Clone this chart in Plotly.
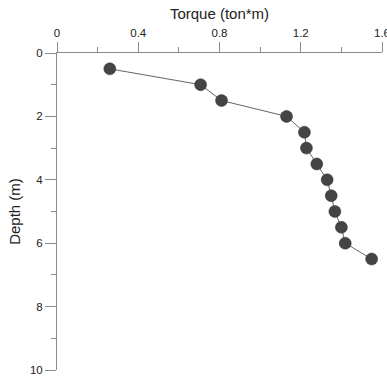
import plotly.graph_objects as go

depth = [0.5, 1.0, 1.5, 2.0, 2.5, 3.0, 3.5, 4.0, 4.5, 5.0, 5.5, 6.0, 6.5]
torque = [0.26, 0.707, 0.81, 1.13, 1.218, 1.228, 1.279, 1.33, 1.35, 1.368, 1.40, 1.419, 1.549]

x_ticks = [0, 0.4, 0.8, 1.2, 1.6]
x_tick_labels = ["0", "0.4", "0.8", "1.2", "1.6"]
y_ticks = [0, 2, 4, 6, 8, 10]

fig = go.Figure()
fig.add_trace(go.Scatter(
    x=torque, y=depth, mode="lines+markers",
    line=dict(color="#666666", width=1),
    marker=dict(size=12, color="#444444", line=dict(color="#333333", width=0.5)),
    showlegend=False, cliponaxis=False,
))

axis_color = "#8a8a8a"
font_family = "Liberation Sans, Arial, sans-serif"

fig.update_layout(
    width=387, height=379,
    margin=dict(l=57, r=5, t=53, b=9, autoexpand=False),
    paper_bgcolor="white", plot_bgcolor="white",
    font=dict(family=font_family, color="#222222", size=11),
    xaxis=dict(
        side="top", range=[0, 1.6], tickvals=x_ticks, ticktext=x_tick_labels,
        automargin=False, ticklabeloverflow="allow",
        ticks="outside", ticklen=10, tickwidth=1, tickcolor=axis_color,
        showline=True, linecolor=axis_color, linewidth=1,
        showgrid=False, zeroline=False,
        minor=dict(dtick=0.2, ticks="outside", ticklen=5, tickcolor=axis_color, tickwidth=1, showgrid=False),
        title=dict(text="Torque (ton*m)", font=dict(size=15, family=font_family), standoff=4),
        tickfont=dict(size=11.5),
    ),
    yaxis=dict(
        range=[10, 0], tickvals=y_ticks,
        automargin=False, ticklabeloverflow="allow",
        ticks="outside", ticklen=11, tickwidth=1, tickcolor=axis_color,
        showline=True, linecolor=axis_color, linewidth=1,
        showgrid=False, zeroline=False,
        minor=dict(dtick=1, ticks="outside", ticklen=5, tickcolor=axis_color, tickwidth=1, showgrid=False),
        title=dict(text="Depth (m)", font=dict(size=15, family=font_family), standoff=5),
        tickfont=dict(size=11.5),
    ),
)

fig.write_html(
    "out.html",
    config={"displayModeBar": False},
    post_script="document.body.style.margin='0';document.body.style.overflow='hidden';",
)
